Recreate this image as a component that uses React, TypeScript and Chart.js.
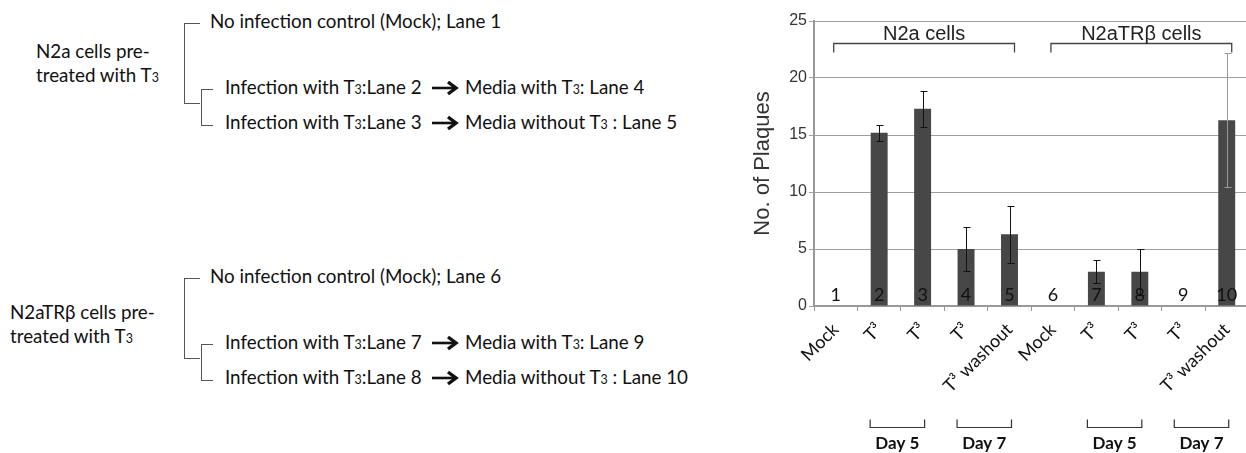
import React, { useEffect, useRef } from "react";
import { Chart, registerables } from "chart.js";

Chart.register(...registerables);

// ---- chart data ----
const laneNumbers = ["1", "2", "3", "4", "5", "6", "7", "8", "9", "10"];
const xLabels = ["Mock", "T³", "T³", "T³", "T³ washout", "Mock", "T³", "T³", "T³", "T³ washout"];
const plaques = [0, 15.2, 17.3, 5.0, 6.3, 0, 3.0, 3.0, 0, 16.3];
const plaqueErr = [0, 0.7, 1.6, 1.9, 2.5, 0, 1.0, 2.0, 0, 5.9];
const errColors = ["#111", "#111", "#111", "#111", "#111", "#111", "#111", "#111", "#111", "#9a9a9a"];
const yMin = 0;
const yMax = 25;
const yStep = 5;
const cellGroups = [
  { label: "N2a cells", from: 0, to: 4 },
  { label: "N2aTRβ cells", from: 5, to: 9 },
];
const dayGroups = [
  { label: "Day 5", from: 1, to: 2 },
  { label: "Day 7", from: 3, to: 4 },
  { label: "Day 5", from: 6, to: 7 },
  { label: "Day 7", from: 8, to: 9 },
];

// ---- diagram text ----
const diagramGroups = [
  { cells: "N2a cells pre-", mockLane: "1", lanes: [["2", "4"], ["3", "5"]] },
  { cells: "N2aTRβ cells pre-", mockLane: "6", lanes: [["7", "9"], ["8", "10"]] },
];

const annotPlugin = {
  id: "annot",
  afterDatasetsDraw(chart: any) {
    const ctx = chart.ctx;
    const xs = chart.scales.x;
    const ys = chart.scales.y;
    const area = chart.chartArea;
    ctx.save();
    // error bars
    plaques.forEach((v, i) => {
      const e = plaqueErr[i];
      if (!e) return;
      const cx = Math.round(xs.getPixelForValue(i)) + 0.5;
      const yt = Math.round(ys.getPixelForValue(v + e)) + 0.5;
      const yb = Math.round(ys.getPixelForValue(v - e)) + 0.5;
      ctx.strokeStyle = errColors[i];
      ctx.lineWidth = 1;
      ctx.beginPath();
      ctx.moveTo(cx, yt);
      ctx.lineTo(cx, yb);
      ctx.moveTo(cx - 3, yt);
      ctx.lineTo(cx + 4, yt);
      ctx.moveTo(cx - 3, yb);
      ctx.lineTo(cx + 4, yb);
      ctx.stroke();
    });
    // lane numbers
    ctx.font = "18px Lato";
    ctx.fillStyle = "#111";
    ctx.textAlign = "center";
    ctx.textBaseline = "middle";
    laneNumbers.forEach((l, i) => {
      ctx.fillText(l, xs.getPixelForValue(i), area.bottom - 11);
    });
    // cell group brackets
    ctx.strokeStyle = "#444";
    ctx.lineWidth = 1.3;
    ctx.font = "20px 'Liberation Sans'";
    ctx.fillStyle = "#222";
    cellGroups.forEach((g) => {
      const x1 = xs.getPixelForValue(g.from) - 2;
      const x2 = xs.getPixelForValue(g.to) + 5;
      const yl = area.top + 22.5;
      ctx.beginPath();
      ctx.moveTo(x1, yl + 9);
      ctx.lineTo(x1, yl);
      ctx.lineTo(x2, yl);
      ctx.lineTo(x2, yl + 9);
      ctx.stroke();
      ctx.fillText(g.label, (x1 + x2) / 2, area.top + 13);
    });
    // day brackets
    ctx.strokeStyle = "#333";
    ctx.lineWidth = 1.2;
    ctx.font = "bold 17px Lato";
    ctx.fillStyle = "#111";
    const bottom = xs.bottom;
    dayGroups.forEach((g) => {
      const x1 = xs.getPixelForValue(g.from) - 9;
      const x2 = xs.getPixelForValue(g.to) + 2;
      const yl = bottom - 25.5;
      ctx.beginPath();
      ctx.moveTo(x1, yl - 8);
      ctx.lineTo(x1, yl);
      ctx.lineTo(x2, yl);
      ctx.lineTo(x2, yl - 8);
      ctx.stroke();
      ctx.fillText(g.label, (x1 + x2) / 2, bottom - 9);
    });
    ctx.restore();
  },
};

const textFont = "Lato, 'Open Sans', sans-serif";

function T3() {
  return (
    <span>
      T<span style={{ fontSize: "0.66em" }}>3</span>
    </span>
  );
}

function Line({ x, y, children }: { x: number; y: number; children: any }) {
  return (
    <div
      style={{
        position: "absolute",
        left: x,
        top: y,
        transform: "translateY(-50%)",
        whiteSpace: "nowrap",
        lineHeight: 1,
        fontFamily: textFont,
        fontSize: 18.8,
        color: "#111",
      }}
    >
      {children}
    </div>
  );
}

function Bracket({ x, y, w, h }: { x: number; y: number; w: number; h: number }) {
  return (
    <div
      style={{
        position: "absolute",
        left: x,
        top: y,
        width: w,
        height: h,
        borderLeft: "1px solid #555",
        borderTop: "1px solid #555",
        borderBottom: "1px solid #555",
        boxSizing: "border-box",
      }}
    />
  );
}

function Arrow({ x, y }: { x: number; y: number }) {
  return (
    <svg
      width={27}
      height={16}
      style={{ position: "absolute", left: x, top: y - 8 }}
    >
      <line x1={0} y1={8} x2={23} y2={8} stroke="#111" strokeWidth={2.6} />
      <polyline points="16,2 24,8 16,14" fill="none" stroke="#111" strokeWidth={3.4} />
    </svg>
  );
}

function Diagram() {
  const offsets = [0, 255];
  const labelPos = [
    { x: 36, y1: 51, y2: 75 },
    { x: 10, y1: 312, y2: 336 },
  ];
  return (
    <>
      {diagramGroups.map((g, gi) => {
        const o = offsets[gi];
        const lp = labelPos[gi];
        return (
          <React.Fragment key={gi}>
            <Line x={lp.x} y={lp.y1}>{g.cells}</Line>
            <Line x={lp.x} y={lp.y2}>
              treated with <T3 />
            </Line>
            <Bracket x={184} y={o + 23} w={16} h={81} />
            <Bracket x={201} y={o + 89} w={12} h={37} />
            <Line x={210} y={o + 21}>No infection control (Mock); Lane {g.mockLane}</Line>
            <Line x={225} y={o + 87}>
              Infection with <T3 />:Lane {g.lanes[0][0]}
            </Line>
            <Arrow x={432} y={o + 88} />
            <Line x={465} y={o + 87}>
              Media with <T3 />: Lane {g.lanes[0][1]}
            </Line>
            <Line x={225} y={o + 122}>
              Infection with <T3 />:Lane {g.lanes[1][0]}
            </Line>
            <Arrow x={432} y={o + 123} />
            <Line x={465} y={o + 122}>
              Media without <T3 /> : Lane {g.lanes[1][1]}
            </Line>
          </React.Fragment>
        );
      })}
    </>
  );
}

export default function App() {
  const ref = useRef<HTMLCanvasElement>(null);
  useEffect(() => {
    const chart = new Chart(ref.current as HTMLCanvasElement, {
      type: "bar",
      data: {
        labels: xLabels,
        datasets: [
          {
            data: plaques,
            backgroundColor: "#474747",
            barPercentage: 0.39,
            categoryPercentage: 1,
          },
        ],
      },
      options: {
        animation: false,
        responsive: false,
        layout: { padding: { top: 21, left: 0, right: 0, bottom: 0 } },
        plugins: { legend: { display: false }, tooltip: { enabled: false } },
        scales: {
          x: {
            grid: { display: true, drawOnChartArea: false, offset: true, tickLength: 5, color: "#999" },
            border: { color: "#999", width: 2 },
            ticks: {
              maxRotation: 45,
              minRotation: 45,
              autoSkip: false,
              font: { family: "Lato", size: 18 },
              color: "#111",
              padding: 8,
            },
            afterFit: (s: any) => {
              s.height = 147;
            },
          },
          y: {
            min: yMin,
            max: yMax,
            ticks: {
              stepSize: yStep,
              font: { family: "'Liberation Sans'", size: 16 },
              color: "#333",
              padding: 2,
            },
            grid: { color: "#a0a0a0", tickLength: 5 },
            border: { color: "#999", width: 2 },
            title: {
              display: true,
              text: "No. of Plaques",
              font: { family: "'Liberation Sans'", size: 22 },
              color: "#333",
              padding: { top: 10, bottom: 0 },
            },
            afterFit: (s: any) => {
              s.width = 74;
            },
          },
        },
      } as any,
      plugins: [annotPlugin],
    });
    return () => chart.destroy();
  }, []);

  return (
    <div
      style={{
        position: "absolute",
        left: 0,
        top: 0,
        width: 1246,
        height: 453,
        overflow: "hidden",
        background: "#fff",
      }}
    >
      <Diagram />
      <canvas
        ref={ref}
        width={510}
        height={453}
        style={{ position: "absolute", left: 740, top: 0, width: 510, height: 453 }}
      />
    </div>
  );
}
